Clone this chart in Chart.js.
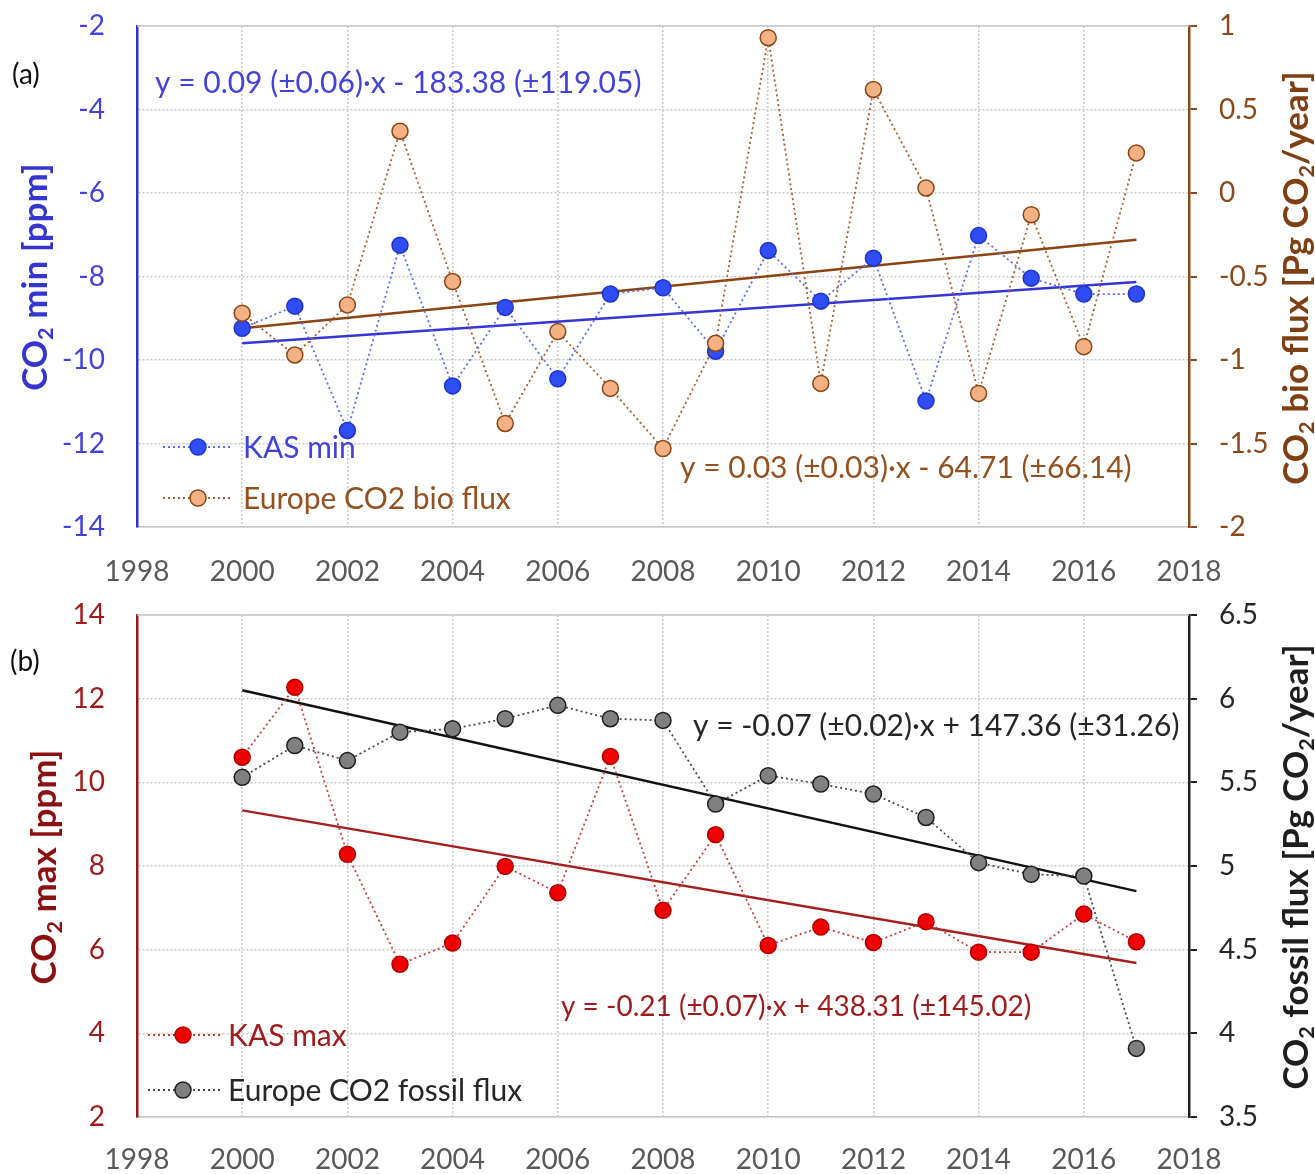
<!DOCTYPE html>
<html>
<head>
<meta charset="utf-8">
<script src="https://cdn.jsdelivr.net/npm/chart.js@4"></script>
<style>
  body { margin: 0; background: #fff; }
  .panel { position: absolute; left: 0; width: 1315px; }
</style>
</head>
<body>
<div class="panel" style="top:0px;height:590px"><canvas id="chartA" width="1315" height="590"></canvas></div>
<div class="panel" style="top:590px;height:584px"><canvas id="chartB" width="1315" height="584"></canvas></div>
<script>
// -------- data -----------------------------
const years = [2000, 2001, 2002, 2003, 2004, 2005, 2006, 2007, 2008, 2009, 2010, 2011, 2012, 2013, 2014, 2015, 2016, 2017];
const kasMin = [-9.24, -8.71, -11.69, -7.25, -10.62, -8.74, -10.45, -8.42, -8.27, -9.79, -7.38, -8.59, -7.56, -10.98, -7.02, -8.04, -8.42, -8.42];
const bioFlux = [-0.72, -0.97, -0.67, 0.37, -0.53, -1.38, -0.83, -1.17, -1.53, -0.90, 0.93, -1.14, 0.62, 0.03, -1.20, -0.13, -0.92, 0.24];
const kasMax = [10.60, 12.27, 8.28, 5.65, 6.16, 7.99, 7.36, 10.62, 6.94, 8.75, 6.10, 6.54, 6.17, 6.67, 5.94, 5.94, 6.85, 6.19];
const fossilFlux = [5.53, 5.72, 5.63, 5.80, 5.82, 5.88, 5.96, 5.88, 5.87, 5.37, 5.54, 5.49, 5.43, 5.29, 5.02, 4.95, 4.94, 3.91];

// --- garis tren (ujung awal dan akhir) ---
const trendYears = [2000, 2017];
const kasMinTrend = [-9.60, -8.13];
const bioFluxTrend = [-0.81, -0.28];
const kasMaxTrend = [9.33, 5.68];
const fossilTrend = [6.05, 4.85];

// --- sumbu ---
const xRange = [1998, 2018];
const minRange = [-14, -2];
const bioRange = [-2, 1];
const maxRange = [2, 14];
const fossilRange = [3.5, 6.5];

const FONT = "Lato, 'Open Sans', sans-serif";

function pts(xs, ys) {
      return xs.map((x, i) => ({ x: x, y: ys[i] }));
}

// --- teks dengan subscript (CO2) ---
function richText(ctx, parts, x, y, size, bold, color, align, rot) {
      const w = bold ? "bold " : "";
      let total = 0;
      parts.forEach((p) => {
            ctx.font = w + (p[1] ? size * 0.62 : size) + "px " + FONT;
            total += ctx.measureText(p[0]).width;
      });
      ctx.save();
      ctx.translate(x, y);
      if (rot) ctx.rotate(rot);
      ctx.fillStyle = color;
      ctx.textBaseline = "middle";
      ctx.textAlign = "left";
      let cx = align === "center" ? -total / 2 : 0;
      parts.forEach((p) => {
            ctx.font = w + (p[1] ? size * 0.62 : size) + "px " + FONT;
            ctx.fillText(p[0], cx, p[1] ? size * 0.28 : 0);
            cx += ctx.measureText(p[0]).width;
      });
      ctx.restore();
}

function legendItem(ctx, item, x0, x1, xm, y, tx) {
      ctx.save();
      ctx.strokeStyle = item.line;
      ctx.lineWidth = 1.8;
      ctx.setLineDash([2, 3]);
      ctx.beginPath();
      ctx.moveTo(x0, y);
      ctx.lineTo(x1, y);
      ctx.stroke();
      ctx.setLineDash([]);
      ctx.beginPath();
      ctx.arc(xm, y, 8, 0, Math.PI * 2);
      ctx.fillStyle = item.fill;
      ctx.fill();
      ctx.lineWidth = 1.5;
      ctx.strokeStyle = item.edge;
      ctx.stroke();
      ctx.font = "30px " + FONT;
      ctx.fillStyle = item.text;
      ctx.textBaseline = "middle";
      ctx.fillText(item.label, tx, y + 1);
      ctx.restore();
}

// --- plugin untuk teks tambahan ---
function decorPlugin(cfg) {
      return {
            id: "decor",
            afterDraw(chart) {
                  const ctx = chart.ctx;
                  const a = chart.chartArea;
                  // garis atas
                  ctx.save();
                  ctx.strokeStyle = "#c8c8c8";
                  ctx.lineWidth = 1.5;
                  ctx.beginPath();
                  ctx.moveTo(a.left, a.top);
                  ctx.lineTo(a.right, a.top);
                  ctx.stroke();
                  ctx.font = "28px " + FONT;
                  ctx.fillStyle = "#111";
                  ctx.textBaseline = "middle";
                  ctx.fillText(cfg.panel, cfg.panelX, cfg.panelY);
                  ctx.restore();

                  cfg.equations.forEach((e) => {
                        ctx.save();
                        ctx.font = e.size + "px " + FONT;
                        ctx.fillStyle = e.color;
                        ctx.textBaseline = "middle";
                        ctx.fillText(e.text, e.x, e.y);
                        ctx.restore();
                  });

                  cfg.legend.forEach((l, i) => {
                        legendItem(ctx, l, cfg.legX0, cfg.legX1, cfg.legXm, cfg.legY[i], cfg.legTx);
                  });

                  richText(ctx, cfg.leftTitle, cfg.leftTitleX, cfg.leftTitleY, 35, true, cfg.leftColor, "center", -Math.PI / 2);
                  richText(ctx, cfg.rightTitle, 1297, cfg.rightTitleY, 35, true, cfg.rightColor, "center", -Math.PI / 2);
            },
      };
}

// --- lebar sumbu tetap, padding label tidak ikut mendorong area plot ---
function fixY(width) {
      return (s) => {
            s.width = width;
            s.paddingTop = 0;
            s.paddingBottom = 0;
      };
}

function makeOptions(c) {
      return {
            responsive: false,
            animation: false,
            layout: { padding: { top: c.top, left: 0, right: 0, bottom: 0 } },
            plugins: { legend: { display: false }, tooltip: { enabled: false } },
            scales: {
                  x: {
                        type: "linear",
                        min: xRange[0],
                        max: xRange[1],
                        afterFit(s) { s.height = c.xHeight; },
                        ticks: { stepSize: 2, padding: c.xPad, color: "#595959", font: { size: 28, family: FONT }, callback: (v) => String(v) },
                        grid: { color: "#c8c8c8", lineWidth: 1.5, drawTicks: false },
                        border: { color: "#c4c4c4", width: 1.5, dash: [2, 2] },
                  },
                  y: {
                        position: "left",
                        min: c.left[0],
                        max: c.left[1],
                        afterFit: fixY(137),
                        ticks: { stepSize: 2, padding: 32, color: c.leftTick, font: { size: 28, family: FONT }, callback: (v) => String(v) },
                        grid: { color: "#c8c8c8", lineWidth: 1.5, drawTicks: false },
                        border: { color: c.leftAxis, width: 2.5, dash: [2, 2] },
                  },
                  y2: {
                        position: "right",
                        min: c.right[0],
                        max: c.right[1],
                        afterFit: fixY(126),
                        ticks: { stepSize: 0.5, padding: 22, color: c.rightTick, font: { size: 28, family: FONT }, callback: (v) => String(v) },
                        grid: { drawOnChartArea: false, color: c.rightAxis, lineWidth: 2, tickLength: 8 },
                        border: { color: c.rightAxis, width: 2.5 },
                  },
            },
      };
}

function series(label, ys, axis, line, fill, edge) {
      return {
            label: label,
            data: pts(years, ys),
            yAxisID: axis,
            borderColor: line,
            borderWidth: 1.8,
            borderDash: [2, 3],
            pointRadius: 8,
            pointBackgroundColor: fill,
            pointBorderColor: edge,
            pointBorderWidth: 1.5,
      };
}

function trend(ys, axis, color) {
      return {
            data: pts(trendYears, ys),
            yAxisID: axis,
            borderColor: color,
            borderWidth: 2.5,
            pointRadius: 0,
      };
}

// ---------- panel (a) ----------
new Chart(document.getElementById("chartA"), {
      type: "line",
      data: {
            datasets: [
                  series("Europe CO2 bio flux", bioFlux, "y2", "#a85d2a", "#f4b183", "#8a4512"),
                  series("KAS min", kasMin, "y", "#5a6cf2", "#2f4cf5", "#1f35c8"),
                  trend(kasMinTrend, "y", "#3535d6"),
                  trend(bioFluxTrend, "y2", "#8b4513"),
            ],
      },
      options: makeOptions({ top: 26, xHeight: 63, xPad: 28, left: minRange, right: bioRange, leftTick: "#4343dc", leftAxis: "#3030d0", rightTick: "#8b4a1c", rightAxis: "#8b4a1c" }),
      plugins: [decorPlugin({
            panel: "(a)", panelX: 12, panelY: 75,
            equations: [
                  { text: "y = 0.09 (±0.06)·x - 183.38 (±119.05)", x: 155, y: 83, size: 30, color: "#4343dc" },
                  { text: "y = 0.03 (±0.03)·x - 64.71 (±66.14)", x: 680, y: 468, size: 30, color: "#94501f" },
            ],
            legend: [
                  { label: "KAS min", line: "#5a6cf2", fill: "#2f4cf5", edge: "#1f35c8", text: "#4343dc" },
                  { label: "Europe CO2 bio flux", line: "#a85d2a", fill: "#f4b183", edge: "#8a4512", text: "#94501f" },
            ],
            legX0: 163, legX1: 232, legXm: 198, legTx: 243, legY: [447, 498],
            leftTitle: [["CO", 0], ["2", 1], [" min [ppm]", 0]], leftTitleX: 36, leftTitleY: 277, leftColor: "#3535d0",
            rightTitle: [["CO", 0], ["2", 1], [" bio flux [Pg CO", 0], ["2", 1], ["/year]", 0]], rightTitleY: 278, rightColor: "#7f3f12",
      })],
});

// ---------- panel (b) ----------
new Chart(document.getElementById("chartB"), {
      type: "line",
      data: {
            datasets: [
                  series("Europe CO2 fossil flux", fossilFlux, "y2", "#4a4a4a", "#808080", "#1e1e1e"),
                  series("KAS max", kasMax, "y", "#c83c3c", "#f00000", "#b00000"),
                  trend(fossilTrend, "y2", "#111111"),
                  trend(kasMaxTrend, "y", "#a51f1f"),
            ],
      },
      options: makeOptions({ top: 25, xHeight: 57, xPad: 26, left: maxRange, right: fossilRange, leftTick: "#a01c1c", leftAxis: "#9b1515", rightTick: "#262626", rightAxis: "#222222" }),
      plugins: [decorPlugin({
            panel: "(b)", panelX: 10, panelY: 72,
            equations: [
                  { text: "y = -0.07 (±0.02)·x + 147.36 (±31.26)", x: 693, y: 136, size: 30, color: "#262626" },
                  { text: "y = -0.21 (±0.07)·x + 438.31 (±145.02)", x: 561, y: 417, size: 28, color: "#a01c1c" },
            ],
            legend: [
                  { label: "KAS max", line: "#c83c3c", fill: "#f00000", edge: "#b00000", text: "#a01c1c" },
                  { label: "Europe CO2 fossil flux", line: "#4a4a4a", fill: "#808080", edge: "#1e1e1e", text: "#262626" },
            ],
            legX0: 148, legX1: 222, legXm: 183, legTx: 228, legY: [445, 500],
            leftTitle: [["CO", 0], ["2", 1], [" max [ppm]", 0]], leftTitleX: 45, leftTitleY: 277, leftColor: "#8b1010",
            rightTitle: [["CO", 0], ["2", 1], [" fossil flux [Pg CO", 0], ["2", 1], ["/year]", 0]], rightTitleY: 277, rightColor: "#1e1e1e",
      })],
});
</script>
</body>
</html>
